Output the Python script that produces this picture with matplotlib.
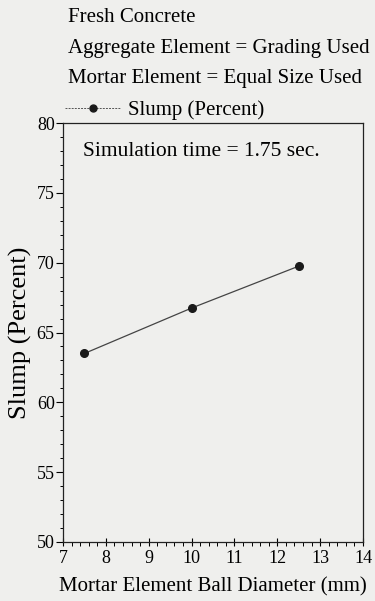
import matplotlib
matplotlib.use("Agg")
import matplotlib.pyplot as plt
from matplotlib.ticker import MultipleLocator
from matplotlib.lines import Line2D

diameter = [7.5, 10.0, 12.5]
slump = [63.5, 66.75, 69.75]
x_ticks = [7, 8, 9, 10, 11, 12, 13, 14]
y_ticks = [50, 55, 60, 65, 70, 75, 80]

plt.rcParams['font.family'] = ['Liberation Serif', 'DejaVu Serif']
bg = '#efefed'
fig = plt.figure(figsize=(3.75, 6.01), dpi=100, facecolor=bg)
W, H = 375, 601
left, right, top, bottom = 63, 363, 123, 542
ax = fig.add_axes([left / W, 1 - bottom / H, (right - left) / W, (bottom - top) / H])
ax.set_facecolor(bg)

ax.plot(diameter, slump, color='#444444', lw=0.9, marker='o', ms=5.5,
        mfc='#1a1a1a', mec='#1a1a1a')
ax.set_xlim(7, 14)
ax.set_ylim(50, 80)
ax.set_xticks(x_ticks)
ax.set_yticks(y_ticks)
ax.xaxis.set_minor_locator(MultipleLocator(0.2))
ax.yaxis.set_minor_locator(MultipleLocator(1))
ax.tick_params(axis='x', which='major', direction='inout', length=6, width=0.8, labelsize=13, pad=3)
ax.tick_params(axis='x', which='minor', direction='out', length=3, width=0.7)
ax.tick_params(axis='y', which='major', direction='out', length=5, width=0.8, labelsize=13, pad=1)
ax.tick_params(axis='y', which='minor', direction='out', length=2.5, width=0.7)
for s in ax.spines.values():
    s.set_linewidth(0.9)
    s.set_color('#222222')

ax.set_xlabel('Mortar Element Ball Diameter (mm)', fontsize=15, labelpad=7)
ax.set_ylabel('Slump (Percent)', fontsize=19, labelpad=3)

ax.text(0.065, 0.955, 'Simulation time = 1.75 sec.', transform=ax.transAxes,
        fontsize=15.5, va='top', ha='left')

fig.text(68 / W, 1 - 18 / H, 'Fresh Concrete', fontsize=15, va='center', ha='left')
fig.text(68 / W, 1 - 49 / H, 'Aggregate Element = Grading Used', fontsize=15, va='center', ha='left')
fig.text(68 / W, 1 - 78 / H, 'Mortar Element = Equal Size Used', fontsize=15, va='center', ha='left')

handle = Line2D([], [], color='#555555', lw=0.7, ls=(0, (2, 1.2)), marker='o', ms=5,
                mfc='#1a1a1a', mec='#1a1a1a')
fig.legend([handle], ['Slump (Percent)'], loc='center left',
           bbox_to_anchor=(65 / W, 1 - 110 / H), frameon=False, fontsize=15,
           handlelength=2.65, handletextpad=0.35, borderaxespad=0, borderpad=0)

fig.savefig('out.png', dpi=100, facecolor=bg)
